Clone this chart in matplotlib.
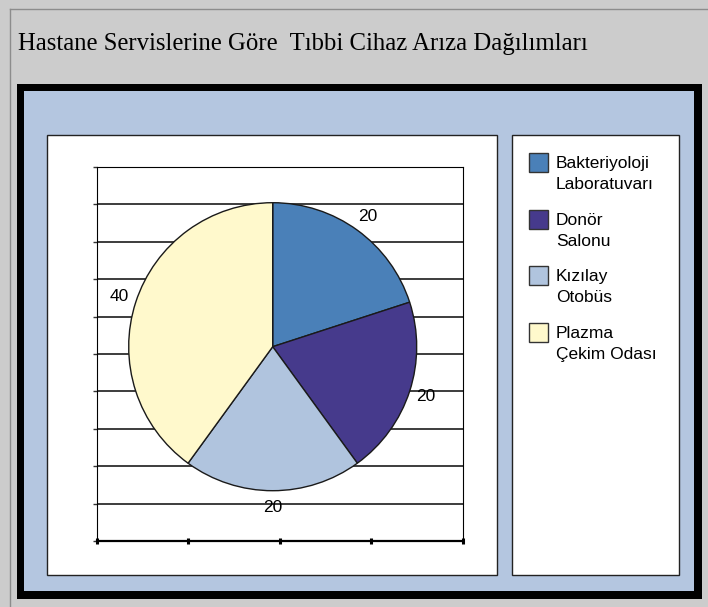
import matplotlib
matplotlib.use("Agg")
import matplotlib.pyplot as plt
from matplotlib.patches import Rectangle

# --- data ---
title = "Hastane Servislerine Göre  Tıbbi Cihaz Arıza Dağılımları"
categories = ["Bakteriyoloji\nLaboratuvarı", "Donör\nSalonu", "Kızılay\nOtobüs", "Plazma\nÇekim Odası"]
values = [20, 20, 20, 40]
colors = ["#4a80b8", "#463a8c", "#b0c4de", "#fff9cc"]

W, H = 708, 607
fig = plt.figure(figsize=(W / 100, H / 100), dpi=100, facecolor="#cccccc")


def box(x0, y0, x1, y1):
    # pixel box (top-left origin) -> figure fraction rect
    return (x0 / W, 1 - y1 / H, (x1 - x0) / W, (y1 - y0) / H)


def rect(x0, y0, x1, y1, **kw):
    l, b, w, h = box(x0, y0, x1, y1)
    fig.add_artist(Rectangle((l, b), w, h, transform=fig.transFigure, zorder=-5, **kw))


# outer frame lines
fig.add_artist(plt.Line2D([10 / W, 10 / W], [0, 1 - 9 / H], transform=fig.transFigure, color="#8c8c8c", lw=1, zorder=-6))
fig.add_artist(plt.Line2D([10 / W, 1], [1 - 9 / H, 1 - 9 / H], transform=fig.transFigure, color="#8c8c8c", lw=1, zorder=-6))

# thick black frame + blue chart area
rect(17, 84, 702, 599, facecolor="black", edgecolor="none")
rect(24, 91, 694, 591, facecolor="#b4c6e0", edgecolor="none")
# plot and legend panels
rect(46.5, 135, 496.5, 575, facecolor="white", edgecolor="#222222", lw=1)
rect(512, 135, 679, 575, facecolor="white", edgecolor="#222222", lw=1)

fig.text(18 / W, 1 - 44 / H, title, fontsize=17.8, family="Liberation Serif", va="center", ha="left")

# background grid axes (Excel style)
ax = fig.add_axes(box(96.7, 167, 463, 541))
ax.set_xlim(0, 4)
ax.set_ylim(0, 10)
ax.set_yticks(range(0, 11))
ax.set_xticks(range(0, 5))
ax.set_yticklabels([])
ax.set_xticklabels([])
ax.grid(axis="y", color="#3c3c3c", lw=1.4)
ax.tick_params(axis="y", length=3, width=1, direction="out", color="#333333")
ax.tick_params(axis="x", length=4, width=2.2, direction="inout", color="black")
for s in ["left", "right", "top"]:
    ax.spines[s].set_linewidth(0.8)
ax.spines["bottom"].set_linewidth(1.6)
ax.set_axisbelow(True)

# pie
pax = fig.add_axes(box(272.7 - 180, 346.7 - 180, 272.7 + 180, 346.7 + 180))
total = sum(values)
wedges, texts, autotexts = pax.pie(
    values, colors=colors, startangle=90, counterclock=False,
    wedgeprops=dict(edgecolor="#1a1a1a", linewidth=1),
    autopct=lambda p: f"{p * total / 100:.0f}", pctdistance=1.12,
    textprops=dict(fontsize=12.5, family="Liberation Sans", color="black"),
)
pax.set_xlim(-1.25, 1.25)
pax.set_ylim(-1.25, 1.25)

# legend panel
lax = fig.add_axes(box(512, 135, 679, 575))
lax.set_xlim(512, 679)
lax.set_ylim(575, 135)
lax.axis("off")
for i, (lab, c) in enumerate(zip(categories, colors)):
    y = 153 + 56.7 * i
    lax.add_patch(Rectangle((529, y), 19, 19, facecolor=c, edgecolor="#333333", lw=1))
    lax.text(556, y + 3, lab, fontsize=12.5, family="Liberation Sans", va="top", ha="left", linespacing=1.49)

fig.savefig("out.png", dpi=100, facecolor=fig.get_facecolor())
